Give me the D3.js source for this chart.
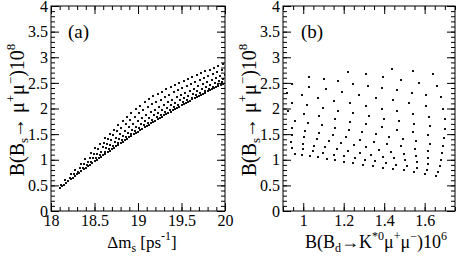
<!DOCTYPE html>
<html>
<head>
<meta charset="utf-8">
<script src="https://cdn.jsdelivr.net/npm/d3@7"></script>
<style>
  body { margin: 0; background: #fff; }
  svg text { font-family: "Liberation Serif", "Times New Roman", serif !important; fill: #000; }
</style>
</head>
<body>
<svg id="chart" width="457" height="256"></svg>
<script>
// Tick values and labels
const brTicks = [0, 0.5, 1, 1.5, 2, 2.5, 3, 3.5, 4];
const brTickLabels = ["0", "0.5", "1", "1.5", "2", "2.5", "3", "3.5", "4"];
const dmsTicks = [18, 18.5, 19, 19.5, 20];
const dmsTickLabels = ["18", "18.5", "19", "19.5", "20"];
const bdTicks = [1, 1.2, 1.4, 1.6];
const bdTickLabels = ["1", "1.2", "1.4", "1.6"];

// Panel (a): Delta m_s [ps^-1] vs B(Bs->mumu)*1e8, one array per slanted column of scan points
const dmsColumns = [
  [[18.100,0.450],[18.115,0.500]],
  [[18.150,0.517],[18.165,0.597]],
  [[18.200,0.584],[18.215,0.640],[18.230,0.714]],
  [[18.250,0.649],[18.265,0.717],[18.280,0.808]],
  [[18.300,0.714],[18.315,0.766],[18.330,0.835],[18.345,0.922]],
  [[18.350,0.779],[18.365,0.838],[18.380,0.916],[18.395,1.017]],
  [[18.400,0.842],[18.415,0.893],[18.430,0.960],[18.445,1.038],[18.460,1.128]],
  [[18.450,0.905],[18.465,0.960],[18.480,1.034],[18.495,1.120],[18.510,1.220]],
  [[18.500,0.968],[18.515,1.027],[18.530,1.108],[18.545,1.202],[18.560,1.312]],
  [[18.550,1.029],[18.565,1.083],[18.580,1.156],[18.595,1.240],[18.610,1.327],[18.625,1.421]],
  [[18.600,1.090],[18.615,1.148],[18.630,1.225],[18.645,1.316],[18.660,1.410],[18.675,1.511]],
  [[18.650,1.150],[18.665,1.210],[18.680,1.291],[18.695,1.386],[18.710,1.484],[18.725,1.590]],
  [[18.700,1.209],[18.715,1.265],[18.730,1.339],[18.745,1.433],[18.760,1.553],[18.775,1.678]],
  [[18.750,1.268],[18.765,1.326],[18.780,1.403],[18.795,1.501],[18.810,1.626],[18.825,1.756]],
  [[18.800,1.326],[18.815,1.385],[18.830,1.466],[18.845,1.567],[18.860,1.698],[18.875,1.833]],
  [[18.850,1.383],[18.865,1.444],[18.880,1.527],[18.895,1.632],[18.910,1.768],[18.925,1.908]],
  [[18.900,1.439],[18.915,1.502],[18.930,1.588],[18.945,1.696],[18.960,1.838],[18.975,1.983]],
  [[18.950,1.495],[18.965,1.560],[18.980,1.648],[18.995,1.761],[19.010,1.907],[19.025,2.058]],
  [[19.000,1.550],[19.015,1.615],[19.030,1.705],[19.045,1.820],[19.060,1.968],[19.075,2.122]],
  [[19.050,1.604],[19.065,1.670],[19.080,1.761],[19.095,1.878],[19.110,2.029],[19.125,2.185]],
  [[19.100,1.658],[19.115,1.724],[19.130,1.815],[19.145,1.931],[19.160,2.082],[19.175,2.238]],
  [[19.150,1.711],[19.165,1.776],[19.180,1.865],[19.195,1.979],[19.210,2.127],[19.225,2.280]],
  [[19.200,1.763],[19.215,1.827],[19.230,1.914],[19.245,2.026],[19.260,2.171],[19.275,2.321]],
  [[19.250,1.815],[19.265,1.878],[19.280,1.966],[19.295,2.077],[19.310,2.222],[19.325,2.372]],
  [[19.300,1.865],[19.315,1.927],[19.330,2.013],[19.345,2.122],[19.360,2.264],[19.375,2.411]],
  [[19.350,1.915],[19.365,1.977],[19.380,2.062],[19.395,2.171],[19.410,2.313],[19.425,2.460]],
  [[19.400,1.965],[19.415,2.026],[19.430,2.109],[19.445,2.216],[19.460,2.355],[19.475,2.499]],
  [[19.450,2.013],[19.465,2.074],[19.480,2.157],[19.495,2.264],[19.510,2.402],[19.525,2.546]],
  [[19.500,2.061],[19.515,2.120],[19.530,2.202],[19.545,2.306],[19.560,2.442],[19.575,2.583]],
  [[19.550,2.108],[19.565,2.166],[19.580,2.246],[19.595,2.348],[19.610,2.481],[19.625,2.618]],
  [[19.600,2.155],[19.615,2.212],[19.630,2.290],[19.645,2.390],[19.660,2.520],[19.675,2.654]],
  [[19.650,2.201],[19.665,2.257],[19.680,2.333],[19.695,2.431],[19.710,2.558],[19.725,2.689]],
  [[19.700,2.246],[19.715,2.300],[19.730,2.375],[19.745,2.471],[19.760,2.595],[19.775,2.723]],
  [[19.750,2.290],[19.765,2.343],[19.780,2.416],[19.795,2.510],[19.810,2.631],[19.825,2.756]],
  [[19.800,2.333],[19.815,2.386],[19.830,2.459],[19.845,2.552],[19.860,2.673],[19.875,2.798]],
  [[19.850,2.376],[19.865,2.428],[19.880,2.499],[19.895,2.590],[19.910,2.708],[19.925,2.830]],
  [[19.900,2.419],[19.915,2.470],[19.930,2.539],[19.945,2.628],[19.960,2.743],[19.975,2.862]],
  [[19.950,2.460],[19.965,2.510],[19.980,2.580],[19.995,2.657]]
];

// Panel (a): points on the lower edge of the scan, between the columns
const dmsEdgeX = [18.125, 18.175, 18.225, 18.275, 18.325, 18.375, 18.425, 18.475, 18.525, 18.575,
  18.625, 18.675, 18.725, 18.775, 18.825, 18.875, 18.925, 18.975, 19.025, 19.075,
  19.125, 19.175, 19.225, 19.275, 19.325, 19.375, 19.425, 19.475, 19.525, 19.575,
  19.625, 19.675, 19.725, 19.775, 19.825, 19.875, 19.925, 19.975];
const dmsEdgeY = [0.484, 0.551, 0.617, 0.682, 0.747, 0.811, 0.874, 0.937, 0.999, 1.060,
  1.120, 1.180, 1.239, 1.297, 1.355, 1.411, 1.467, 1.523, 1.577, 1.631,
  1.685, 1.737, 1.789, 1.840, 1.890, 1.940, 1.989, 2.037, 2.085, 2.132,
  2.178, 2.224, 2.268, 2.312, 2.355, 2.398, 2.440, 2.480];

// Panel (b): B(Bd->K*mumu)*1e6 vs B(Bs->mumu)*1e8, one array per row of the scan
const bdRows = [
  [[0.959,1.112],[0.995,1.093],[1.033,1.073],[1.074,1.048],[1.116,1.020],[1.158,0.995],[1.201,0.962],[1.247,0.937],
   [1.295,0.904],[1.345,0.878],[1.396,0.845],[1.445,0.820],[1.498,0.794],[1.547,0.761],[1.603,0.728],[1.654,0.689]],
  [[0.946,1.235],[0.997,1.202],[1.049,1.169],[1.100,1.135],[1.151,1.102],[1.203,1.069],[1.254,1.036],[1.305,1.003],
   [1.357,0.970],[1.408,0.936],[1.460,0.903],[1.511,0.870],[1.562,0.837],[1.614,0.804],[1.665,0.770]],
  [[0.940,1.350],[0.997,1.314],[1.053,1.278],[1.110,1.242],[1.166,1.205],[1.223,1.169],[1.279,1.133],[1.336,1.097],
   [1.392,1.061],[1.449,1.025],[1.505,0.988],[1.562,0.952],[1.618,0.916],[1.675,0.880]],
  [[0.943,1.48],[1.004,1.44],[1.066,1.40],[1.127,1.36],[1.189,1.32],[1.250,1.28],[1.312,1.24],[1.373,1.20],
   [1.434,1.16],[1.496,1.12],[1.557,1.08],[1.619,1.04],[1.680,1.00]],
  [[0.943,1.610],[1.010,1.566],[1.078,1.523],[1.145,1.479],[1.213,1.435],[1.280,1.392],[1.348,1.348],[1.415,1.305],
   [1.483,1.261],[1.550,1.217],[1.618,1.174],[1.685,1.130]],
  [[0.959,1.760],[1.025,1.715],[1.092,1.671],[1.158,1.626],[1.225,1.582],[1.291,1.537],[1.358,1.493],[1.424,1.448],
   [1.491,1.404],[1.557,1.359],[1.624,1.315],[1.690,1.270]],
  [[0.925,1.950],[1.002,1.898],[1.079,1.846],[1.156,1.794],[1.233,1.742],[1.310,1.690],[1.387,1.638],[1.464,1.586],
   [1.541,1.534],[1.618,1.482],[1.695,1.430]],
  [[0.946,2.110],[1.021,2.059],[1.097,2.008],[1.172,1.957],[1.248,1.906],[1.323,1.855],[1.398,1.804],[1.474,1.753],
   [1.549,1.702],[1.625,1.651],[1.700,1.600]],
  [[0.918,2.310],[0.996,2.258],[1.074,2.206],[1.153,2.154],[1.231,2.102],[1.309,2.050],[1.387,1.998],[1.465,1.946],
   [1.544,1.894],[1.622,1.842],[1.700,1.790]],
  [[0.946,2.480],[1.029,2.427],[1.111,2.373],[1.194,2.320],[1.277,2.267],[1.360,2.213],[1.442,2.160],[1.525,2.107],
   [1.608,2.053],[1.690,2.000]],
  [[1.030,2.620],[1.102,2.576],[1.174,2.531],[1.247,2.487],[1.319,2.442],[1.391,2.398],[1.463,2.353],[1.536,2.309],
   [1.608,2.264],[1.680,2.220]],
  [[1.220,2.720],[1.308,2.664],[1.396,2.608],[1.484,2.552],[1.572,2.496],[1.660,2.440]],
  [[1.440,2.780],[1.540,2.725],[1.640,2.670]]
];

class ScatterPanel {
  /**
   * One framed scatter panel, ROOT style (ticks inside on all four sides)
   */
  constructor(_config, _data) {
    this.config = {
      id: _config.id,
      left: _config.left,
      top: _config.top,
      width: _config.width,
      height: _config.height,
      xDomain: _config.xDomain,
      yDomain: _config.yDomain || [0, 4],
      xTicks: _config.xTicks,
      xTickLabels: _config.xTickLabels,
      xMinorStep: _config.xMinorStep,
      yTicks: _config.yTicks || brTicks,
      yTickLabels: _config.yTickLabels || brTickLabels,
      yMinorStep: _config.yMinorStep || 0.1,
      tag: _config.tag,
      majorLen: 8,
      minorLen: 4
    };
    this.data = _data;
    this.initVis();
  }

  initVis() {
    let vis = this;
    const c = vis.config;

    vis.xScale = d3.scaleLinear().domain(c.xDomain).range([0, c.width]);
    vis.yScale = d3.scaleLinear().domain(c.yDomain).range([c.height, 0]);

    vis.chart = d3.select("#chart").append("g")
      .attr("transform", `translate(${c.left},${c.top})`);

    vis.chart.append("clipPath").attr("id", `clip-${c.id}`)
      .append("rect").attr("width", c.width).attr("height", c.height);

    vis.renderVis();
  }

  renderVis() {
    let vis = this;
    const c = vis.config;

    // minor tick positions
    const xMinor = d3.range(Math.ceil(c.xDomain[0] / c.xMinorStep - 1e-6), Math.floor(c.xDomain[1] / c.xMinorStep + 1e-6) + 1)
      .map(i => +(i * c.xMinorStep).toFixed(4));
    const yMinor = d3.range(0, Math.round(c.yDomain[1] / c.yMinorStep) + 1).map(i => +(i * c.yMinorStep).toFixed(4));

    const axes = [
      { g: d3.axisBottom(vis.xScale), pos: `translate(0,${c.height})`, major: c.xTicks, minor: xMinor, labels: c.xTickLabels, pad: 4 },
      { g: d3.axisTop(vis.xScale), pos: "translate(0,0)", major: c.xTicks, minor: xMinor },
      { g: d3.axisLeft(vis.yScale), pos: "translate(0,0)", major: c.yTicks, minor: yMinor, labels: c.yTickLabels, pad: 3 },
      { g: d3.axisRight(vis.yScale), pos: `translate(${c.width},0)`, major: c.yTicks, minor: yMinor }
    ];

    axes.forEach(a => {
      // minor ticks
      const gm = vis.chart.append("g").attr("transform", a.pos)
        .call(a.g.tickValues(a.minor).tickSizeInner(-c.minorLen).tickSizeOuter(0).tickFormat(""));
      gm.select(".domain").remove();
      // major ticks (+ labels)
      const gM = vis.chart.append("g").attr("transform", a.pos)
        .call(a.g.tickValues(a.major).tickSizeInner(-c.majorLen).tickSizeOuter(0)
          .tickPadding(a.pad || 0)
          .tickFormat((d, i) => a.labels ? a.labels[i] : ""));
      gM.select(".domain").remove();
      [gm, gM].forEach(g => {
        g.attr("font-family", null);
        g.selectAll("line").attr("stroke", "#000").attr("stroke-width", 1);
        g.selectAll("text").style("font-size", "16px");
      });
    });

    // frame
    vis.chart.append("rect")
      .attr("width", c.width).attr("height", c.height)
      .attr("fill", "none").attr("stroke", "#000").attr("stroke-width", 1);

    // points, snapped to the pixel grid like ROOT dot markers
    vis.chart.append("g").attr("clip-path", `url(#clip-${c.id})`)
      .selectAll(".pt").data(vis.data).join("rect")
      .attr("class", "pt")
      .attr("x", d => Math.round(vis.xScale(d[0])) - 1)
      .attr("y", d => Math.round(vis.yScale(d[1])) - 1)
      .attr("width", 2).attr("height", 2)
      .attr("shape-rendering", "crispEdges")
      .attr("fill", "#111");

    // panel tag
    vis.chart.append("text")
      .attr("x", c.tag.x).attr("y", c.tag.y)
      .style("font-size", "19px")
      .text(c.tag.text);
  }
}

const panelAPoints = dmsColumns.flat().concat(dmsEdgeX.map((x, i) => [x, dmsEdgeY[i]]));

const panelA = new ScatterPanel({
  id: "a", left: 51, top: 6, width: 174, height: 205,
  xDomain: [18, 20], xTicks: dmsTicks, xTickLabels: dmsTickLabels, xMinorStep: 0.1,
  tag: { text: "(a)", x: 17, y: 32 }
}, panelAPoints);

const panelB = new ScatterPanel({
  id: "b", left: 283, top: 6, width: 172, height: 205,
  xDomain: [0.9, 1.75], xTicks: bdTicks, xTickLabels: bdTickLabels, xMinorStep: 0.05,
  tag: { text: "(b)", x: 18, y: 32 }
}, bdRows.flat());

// axis titles
const svg = d3.select("#chart");

function yTitle(x) {
  const t = svg.append("text")
    .attr("transform", `translate(${x},110) rotate(-90)`)
    .attr("text-anchor", "middle")
    .style("font-size", "20px");
  t.append("tspan").text("B(B");
  t.append("tspan").style("font-size", "13px").attr("dy", 4).text("s");
  t.append("tspan").attr("dy", -4).text("\u2192 \u03bc");
  t.append("tspan").style("font-size", "13px").attr("dy", -9).text("+");
  t.append("tspan").attr("dy", 9).text("\u03bc");
  t.append("tspan").style("font-size", "13px").attr("dy", -9).text("\u2212");
  t.append("tspan").attr("dy", 9).text(")10");
  t.append("tspan").style("font-size", "13px").attr("dy", -9).text("8");
}
yTitle(24);
yTitle(256);

const xa = svg.append("text")
  .attr("x", 142).attr("y", 248)
  .attr("text-anchor", "middle")
  .style("font-size", "17px");
xa.append("tspan").text("\u0394m");
xa.append("tspan").style("font-size", "12px").attr("dy", 4).text("s");
xa.append("tspan").attr("dy", -4).text(" [ps");
xa.append("tspan").style("font-size", "12px").attr("dy", -8).text("-1");
xa.append("tspan").attr("dy", 8).text("]");

const xb = svg.append("text")
  .attr("x", 376).attr("y", 248)
  .attr("text-anchor", "middle")
  .style("font-size", "18px");
xb.append("tspan").text("B(B");
xb.append("tspan").style("font-size", "12px").attr("dy", 4).text("d");
xb.append("tspan").attr("dy", -4).text("\u2192K");
xb.append("tspan").style("font-size", "12px").attr("dy", -8).text("*0");
xb.append("tspan").attr("dy", 8).text("\u03bc");
xb.append("tspan").style("font-size", "12px").attr("dy", -8).text("+");
xb.append("tspan").attr("dy", 8).text("\u03bc");
xb.append("tspan").style("font-size", "12px").attr("dy", -8).text("\u2212");
xb.append("tspan").attr("dy", 8).text(")10");
xb.append("tspan").style("font-size", "12px").attr("dy", -8).text("6");
</script>
</body>
</html>
